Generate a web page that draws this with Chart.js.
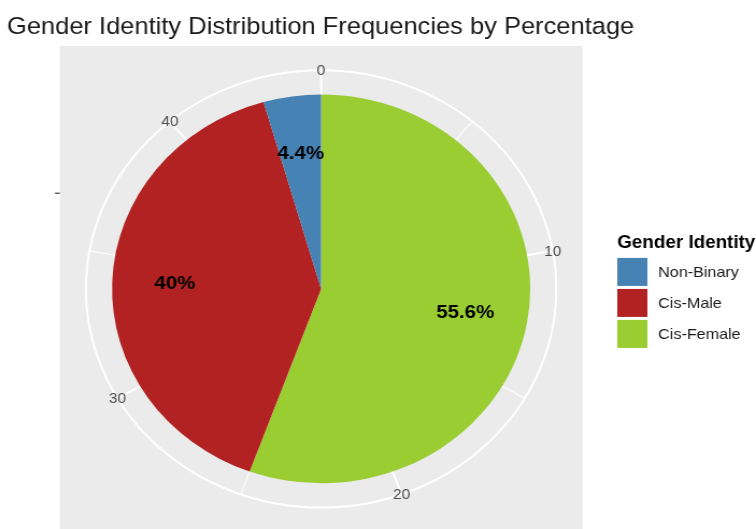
<!DOCTYPE html>
<html>
<head>
<meta charset="utf-8">
<title>Gender Identity Distribution</title>
<script src="https://cdn.jsdelivr.net/npm/chart.js@4.4.1/dist/chart.umd.min.js"></script>
<style>
  html, body { margin: 0; padding: 0; background: #fff; overflow: hidden; }
  /* the plot is laid out on a 703px canvas and widened to fill the page */
  #stage { width: 703px; height: 529px; transform: scaleX(1.0754); transform-origin: 0 0; }
</style>
</head>
<body>
<div id="stage"><canvas id="gender-pie" width="703" height="529"></canvas></div>
<script>
// Respondent counts, listed in legend order
const categories = ['Non-Binary', 'Cis-Male', 'Cis-Female'];
const counts = [2, 18, 25];
const sliceColors = ['#4682B4', '#B22222', '#9ACD32'];

// Count axis wrapped around the circle
const thetaBreaks = [0, 10, 20, 30, 40];
const thetaMinorBreaks = [5, 15, 25, 35];

const FONT = '"Liberation Sans", Arial, Helvetica, sans-serif';
const total = counts.reduce((a, b) => a + b, 0);

// pie is drawn clockwise from the top in reverse legend order
const pieOrder = [2, 1, 0];

function angleOf(value) {
    return -Math.PI / 2 + (value / total) * Math.PI * 2;
}

function percentText(count) {
    return `${parseFloat((count / total * 100).toFixed(1))}%`;
}

// Grey panel, white polar grid and count labels behind the slices
const polarPanel = {
    id: 'polarPanel',
    beforeDatasetsDraw(chart) {
        const arc = chart.getDatasetMeta(0).data[0];
        if (!arc) return;
        const ctx = chart.ctx;
        const cx = arc.x, cy = arc.y, R = arc.outerRadius;
        const half = R * 1.25;
        const ring = R * 1.125;

        ctx.save();
        ctx.fillStyle = '#EBEBEB';
        ctx.fillRect(cx - half, cy - half, half * 2, half * 2);

        ctx.strokeStyle = '#FFFFFF';
        const spoke = (v, width) => {
            const a = angleOf(v);
            ctx.lineWidth = width;
            ctx.beginPath();
            ctx.moveTo(cx, cy);
            ctx.lineTo(cx + ring * Math.cos(a), cy + ring * Math.sin(a));
            ctx.stroke();
        };
        thetaMinorBreaks.forEach(v => spoke(v, 1.1));
        thetaBreaks.forEach(v => spoke(v, 2));

        ctx.lineWidth = 2;
        ctx.beginPath();
        ctx.arc(cx, cy, ring, 0, Math.PI * 2);
        ctx.stroke();

        // lone tick of the radial axis
        ctx.strokeStyle = '#333333';
        ctx.lineWidth = 1.1;
        ctx.beginPath();
        ctx.moveTo(cx - half - 4.5, cy - R / 2 + 1.5);
        ctx.lineTo(cx - half, cy - R / 2 + 1.5);
        ctx.stroke();

        ctx.fillStyle = '#4D4D4D';
        ctx.font = `14.3px ${FONT}`;
        ctx.textAlign = 'center';
        ctx.textBaseline = 'middle';
        thetaBreaks.forEach(v => {
            const a = angleOf(v);
            ctx.fillText(String(v), cx + ring * Math.cos(a), cy + ring * Math.sin(a) + 1);
        });
        ctx.restore();
    }
};

// Percentage text inside each slice
const sliceLabels = {
    id: 'sliceLabels',
    afterDatasetsDraw(chart) {
        const meta = chart.getDatasetMeta(0);
        const values = chart.data.datasets[0].data;
        const ctx = chart.ctx;
        ctx.save();
        ctx.fillStyle = '#000000';
        ctx.font = `bold 19px ${FONT}`;
        ctx.textAlign = 'center';
        ctx.textBaseline = 'middle';
        meta.data.forEach((arc, i) => {
            const mid = (arc.startAngle + arc.endAngle) / 2;
            const r = arc.outerRadius * 0.7;
            ctx.fillText(percentText(values[i]), arc.x + r * Math.cos(mid), arc.y + r * Math.sin(mid));
        });
        ctx.restore();
    }
};

// Legend on the right, keys stacked under a bold title
const keyLegend = {
    id: 'keyLegend',
    afterDraw(chart) {
        const arc = chart.getDatasetMeta(0).data[0];
        if (!arc) return;
        const ctx = chart.ctx;
        const left = arc.x + arc.outerRadius * 1.25 + 32.4;
        const top = arc.y - 31;
        const key = 28, step = 31;

        ctx.save();
        ctx.fillStyle = '#000000';
        ctx.font = `bold 17.5px ${FONT}`;
        ctx.textAlign = 'left';
        ctx.textBaseline = 'middle';
        ctx.fillText('Gender Identity', left, arc.y - 46);

        ctx.font = `15px ${FONT}`;
        categories.forEach((name, i) => {
            const y = top + i * step;
            ctx.fillStyle = sliceColors[i];
            ctx.fillRect(left, y, key, key);
            ctx.fillStyle = '#1A1A1A';
            ctx.fillText(name, left + key + 10, y + key / 2 + 1);
        });
        ctx.restore();
    }
};

const ctx = document.getElementById('gender-pie').getContext('2d');

new Chart(ctx, {
    type: 'pie',
    data: {
        labels: pieOrder.map(i => categories[i]),
        datasets: [{
            data: pieOrder.map(i => counts[i]),
            backgroundColor: pieOrder.map(i => sliceColors[i]),
            borderWidth: 0,
            radius: 194.4
        }]
    },
    options: {
        responsive: false,
        animation: false,
        events: [],
        rotation: 0,
        layout: {
            padding: { left: 6.5, right: 112.3, top: 0, bottom: 0 }
        },
        plugins: {
            legend: { display: false },
            tooltip: { enabled: false },
            title: {
                display: true,
                text: 'Gender Identity Distribution Frequencies by Percentage',
                align: 'start',
                color: '#1A1A1A',
                font: { family: FONT, size: 23.7, weight: 'normal' },
                padding: { top: 13, bottom: 7.4 }
            }
        }
    },
    plugins: [polarPanel, sliceLabels, keyLegend]
});
</script>
</body>
</html>
